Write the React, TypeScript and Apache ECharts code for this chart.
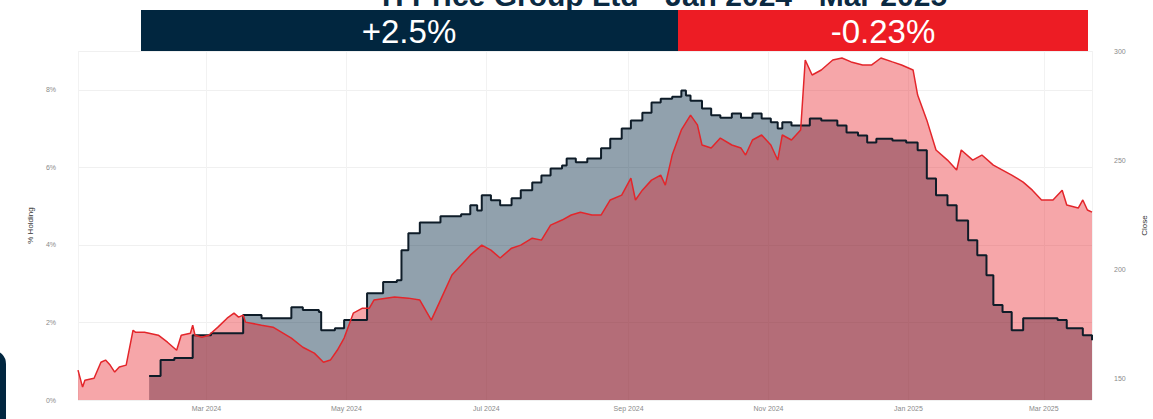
import React, { useEffect, useRef } from "react";
import * as echarts from "echarts";

const titleText = "TI Price Group Ltd - Jan 2024 - Mar 2025";
const holdingChange = "+2.5%";
const priceChange = "-0.23%";
const leftAxisName = "% Holding";
const rightAxisName = "Close";
const monthNames = ["Jan", "Feb", "Mar", "Apr", "May", "Jun", "Jul", "Aug", "Sep", "Oct", "Nov", "Dec"];
const xStart = "2024-01-05";
const xEnd = "2025-03-22";

const closeDates = [
  "2024-01-05", "2024-01-07", "2024-01-08", "2024-01-12", "2024-01-15", "2024-01-17", "2024-01-19", "2024-01-21",
  "2024-01-23", "2024-01-26", "2024-01-29", "2024-01-30", "2024-02-03", "2024-02-09", "2024-02-13", "2024-02-17",
  "2024-02-19", "2024-02-23", "2024-02-24", "2024-02-25", "2024-02-28", "2024-03-02", "2024-03-06", "2024-03-10",
  "2024-03-13", "2024-03-15", "2024-03-17", "2024-03-18", "2024-03-25", "2024-03-30", "2024-04-07", "2024-04-12",
  "2024-04-17", "2024-04-21", "2024-04-24", "2024-04-27", "2024-04-30", "2024-05-04", "2024-05-08", "2024-05-11",
  "2024-05-13", "2024-05-22", "2024-05-28", "2024-06-02", "2024-06-07", "2024-06-11", "2024-06-16", "2024-06-20",
  "2024-06-24", "2024-06-29", "2024-07-03", "2024-07-07", "2024-07-12", "2024-07-16", "2024-07-21", "2024-07-25",
  "2024-07-29", "2024-08-03", "2024-08-07", "2024-08-11", "2024-08-16", "2024-08-20", "2024-08-24", "2024-08-29",
  "2024-09-02", "2024-09-04", "2024-09-07", "2024-09-11", "2024-09-15", "2024-09-17", "2024-09-20", "2024-09-24",
  "2024-09-28", "2024-10-01", "2024-10-03", "2024-10-07", "2024-10-11", "2024-10-16", "2024-10-20", "2024-10-22",
  "2024-10-25", "2024-10-29", "2024-11-02", "2024-11-05", "2024-11-07", "2024-11-11", "2024-11-15", "2024-11-17",
  "2024-11-20", "2024-11-24", "2024-11-29", "2024-12-03", "2024-12-07", "2024-12-12", "2024-12-16", "2024-12-20",
  "2024-12-25", "2024-12-29", "2025-01-03", "2025-01-05", "2025-01-09", "2025-01-13", "2025-01-18", "2025-01-22",
  "2025-01-24", "2025-01-29", "2025-02-02", "2025-02-07", "2025-02-11", "2025-02-15", "2025-02-20", "2025-02-24",
  "2025-02-28", "2025-03-05", "2025-03-09", "2025-03-11", "2025-03-16", "2025-03-18", "2025-03-20", "2025-03-22"
];
const closeValues = [
  153.7, 145.9, 149.1, 150.0, 157.3, 158.3, 156.0, 152.8,
  155.1, 156.0, 172.0, 171.1, 171.1, 169.7, 166.5, 162.8,
  169.7, 170.6, 174.3, 169.7, 168.8, 169.7, 173.4, 177.5,
  179.8, 178.0, 178.9, 175.7, 174.3, 173.4, 168.4, 164.2,
  161.5, 157.3, 158.3, 162.8, 168.4, 179.8, 182.1, 182.1,
  185.8, 187.2, 186.7, 185.8, 176.6, 185.8, 197.3, 201.8,
  206.4, 211.0, 208.7, 205.1, 209.6, 211.0, 214.2, 213.3,
  220.2, 222.5, 224.8, 226.1, 224.8, 224.8, 231.7, 233.9,
  241.7, 231.7, 236.2, 240.8, 243.1, 238.5, 252.3, 263.8,
  270.6, 266.1, 256.9, 255.5, 260.1, 256.9, 255.5, 252.3,
  259.2, 261.5, 256.9, 250.0, 261.5, 259.2, 263.8, 295.9,
  289.0, 291.3, 295.9, 296.8, 295.0, 293.6, 293.6, 296.8,
  295.0, 293.6, 291.3, 279.8, 268.3, 254.6, 250.0, 245.4,
  254.6, 250.0, 252.3, 247.7, 245.4, 243.1, 239.9, 236.2,
  231.7, 231.7, 236.2, 229.4, 228.0, 231.7, 227.1, 226.1
];

const holdingDates = [
  "2024-02-05", "2024-02-10", "2024-02-10", "2024-02-16", "2024-02-24", "2024-02-24", "2024-03-03", "2024-03-17",
  "2024-03-17", "2024-03-25", "2024-04-07", "2024-04-07", "2024-04-12", "2024-04-19", "2024-04-20", "2024-04-26",
  "2024-04-30", "2024-05-10", "2024-05-10", "2024-05-17", "2024-05-17", "2024-05-23", "2024-05-25", "2024-05-28",
  "2024-06-02", "2024-06-11", "2024-06-20", "2024-06-24", "2024-06-27", "2024-06-29", "2024-07-03", "2024-07-07",
  "2024-07-12", "2024-07-16", "2024-07-21", "2024-07-25", "2024-07-29", "2024-08-03", "2024-08-05", "2024-08-09",
  "2024-08-14", "2024-08-20", "2024-08-24", "2024-08-29", "2024-09-02", "2024-09-07", "2024-09-11", "2024-09-15",
  "2024-09-20", "2024-09-24", "2024-09-26", "2024-09-28", "2024-10-03", "2024-10-07", "2024-10-11", "2024-10-16",
  "2024-10-20", "2024-10-25", "2024-10-29", "2024-11-02", "2024-11-05", "2024-11-07", "2024-11-11", "2024-11-15",
  "2024-11-19", "2024-11-24", "2024-12-01", "2024-12-05", "2024-12-10", "2024-12-14", "2024-12-18", "2024-12-25",
  "2024-12-31", "2025-01-05", "2025-01-09", "2025-01-13", "2025-01-18", "2025-01-22", "2025-01-27", "2025-01-31",
  "2025-02-04", "2025-02-07", "2025-02-11", "2025-02-15", "2025-02-20", "2025-02-28", "2025-03-07", "2025-03-11",
  "2025-03-18", "2025-03-22"
];
const holdingValues = [
  0.62, 0.62, 1.03, 1.08, 1.11, 1.67, 1.72, 1.80,
  2.19, 2.11, 2.11, 2.39, 2.32, 2.27, 1.80, 1.85,
  2.06, 2.14, 2.75, 2.78, 3.04, 3.09, 3.86, 4.30,
  4.58, 4.74, 4.79, 5.02, 4.89, 5.28, 5.15, 5.02,
  5.20, 5.41, 5.61, 5.79, 5.97, 6.05, 6.23, 6.13,
  6.23, 6.49, 6.74, 7.00, 7.21, 7.41, 7.67, 7.77,
  7.82, 7.98, 7.85, 7.72, 7.52, 7.34, 7.28, 7.39,
  7.28, 7.39, 7.26, 7.16, 7.00, 7.16, 7.08, 7.08,
  7.26, 7.21, 7.08, 6.90, 6.82, 6.64, 6.74, 6.69,
  6.64, 6.44, 5.71, 5.28, 5.02, 4.63, 4.12, 3.73,
  3.22, 2.45, 2.27, 1.80, 2.11, 2.11, 2.06, 1.85,
  1.67, 1.54
];

export default function App() {
  const ref = useRef<HTMLDivElement>(null);
  useEffect(() => {
    document.body.style.margin = "0";
    if (!ref.current) return;
    const chart = echarts.init(ref.current, undefined, { renderer: "svg" });
    const closeData = closeDates.map((d, i) => [d, closeValues[i]]);
    const holdingData = holdingDates.map((d, i) => [d, holdingValues[i]]);
    const labelStyle = { fontSize: 7, color: "#8a8a8a", fontFamily: "Liberation Sans" };
    chart.setOption({
      animation: false,
      grid: { left: 78, right: 61, top: 51, bottom: 19, containLabel: false, outerBoundsMode: "none" },
      xAxis: {
        type: "time",
        min: xStart,
        max: xEnd,
        splitNumber: 7,
        axisLine: { show: false },
        axisTick: { show: false },
        splitLine: { show: true, lineStyle: { color: "#f2f2f2", width: 1 } },
        axisLabel: {
          ...labelStyle,
          margin: 5,
          hideOverlap: false,
          formatter: (v: number) => {
            const d = new Date(v);
            if (d.getDate() !== 1 || d.getMonth() % 2 !== 0) return "";
            return monthNames[d.getMonth()] + " " + d.getFullYear();
          },
        },
      },
      yAxis: [
        {
          type: "value",
          min: 0,
          max: 9,
          interval: 2,
          name: leftAxisName,
          nameLocation: "middle",
          nameGap: 44,
          nameTextStyle: { fontSize: 8, color: "#333", fontFamily: "Liberation Sans" },
          axisLine: { show: false },
          axisTick: { show: false },
          splitLine: { show: true, lineStyle: { color: "#f0f0f0", width: 1 } },
          axisLabel: {
            ...labelStyle,
            margin: 22,
            formatter: (v: number) => (v % 2 === 0 ? v + "%" : ""),
          },
        },
        {
          type: "value",
          min: 140,
          max: 300,
          interval: 10,
          name: rightAxisName,
          nameLocation: "middle",
          nameGap: 48,
          nameTextStyle: { fontSize: 8, color: "#333", fontFamily: "Liberation Sans" },
          axisLine: { show: false },
          axisTick: { show: false },
          splitLine: { show: false },
          axisLabel: {
            ...labelStyle,
            margin: 22,
            formatter: (v: number) => (v % 50 === 0 ? String(v) : ""),
          },
        },
      ],
      series: [
        {
          type: "line",
          yAxisIndex: 0,
          data: holdingData,
          step: "end",
          symbol: "none",
          lineStyle: { width: 0 },
          areaStyle: { color: "rgba(0,38,64,0.43)", opacity: 1 },
          z: 1,
        },
        {
          type: "line",
          yAxisIndex: 1,
          data: closeData,
          symbol: "none",
          lineStyle: { width: 0 },
          areaStyle: { color: "rgba(232,32,40,0.4)", opacity: 1 },
          z: 2,
        },
        {
          type: "line",
          yAxisIndex: 0,
          data: holdingData,
          step: "end",
          symbol: "none",
          lineStyle: { width: 2, color: "#0e1c28" },
          z: 3,
        },
        {
          type: "line",
          yAxisIndex: 1,
          data: closeData,
          symbol: "none",
          lineStyle: { width: 1.5, color: "#e3262b" },
          z: 4,
        },
      ],
      graphic: [
        {
          type: "text",
          x: 662,
          y: -5,
          style: {
            text: titleText,
            font: "bold 30px 'Liberation Sans'",
            fill: "#0b2a42",
            align: "center",
            verticalAlign: "middle",
          },
          z: 10,
        },
        { type: "rect", shape: { x: 141, y: 10, width: 537, height: 41 }, style: { fill: "#01263f" }, z: 10 },
        { type: "rect", shape: { x: 678, y: 10, width: 410, height: 41 }, style: { fill: "#ed1c24" }, z: 10 },
        {
          type: "text",
          x: 409,
          y: 31,
          style: { text: holdingChange, font: "33px 'Liberation Sans'", fill: "#ffffff", align: "center", verticalAlign: "middle" },
          z: 11,
        },
        {
          type: "text",
          x: 883,
          y: 31,
          style: { text: priceChange, font: "33px 'Liberation Sans'", fill: "#ffffff", align: "center", verticalAlign: "middle" },
          z: 11,
        },
        { type: "rect", shape: { x: -22, y: 350, width: 28, height: 100, r: 14 }, style: { fill: "#01263f" }, z: 10 },
      ],
    });
    return () => chart.dispose();
  }, []);
  return <div ref={ref} style={{ width: 1153, height: 419 }} />;
}
